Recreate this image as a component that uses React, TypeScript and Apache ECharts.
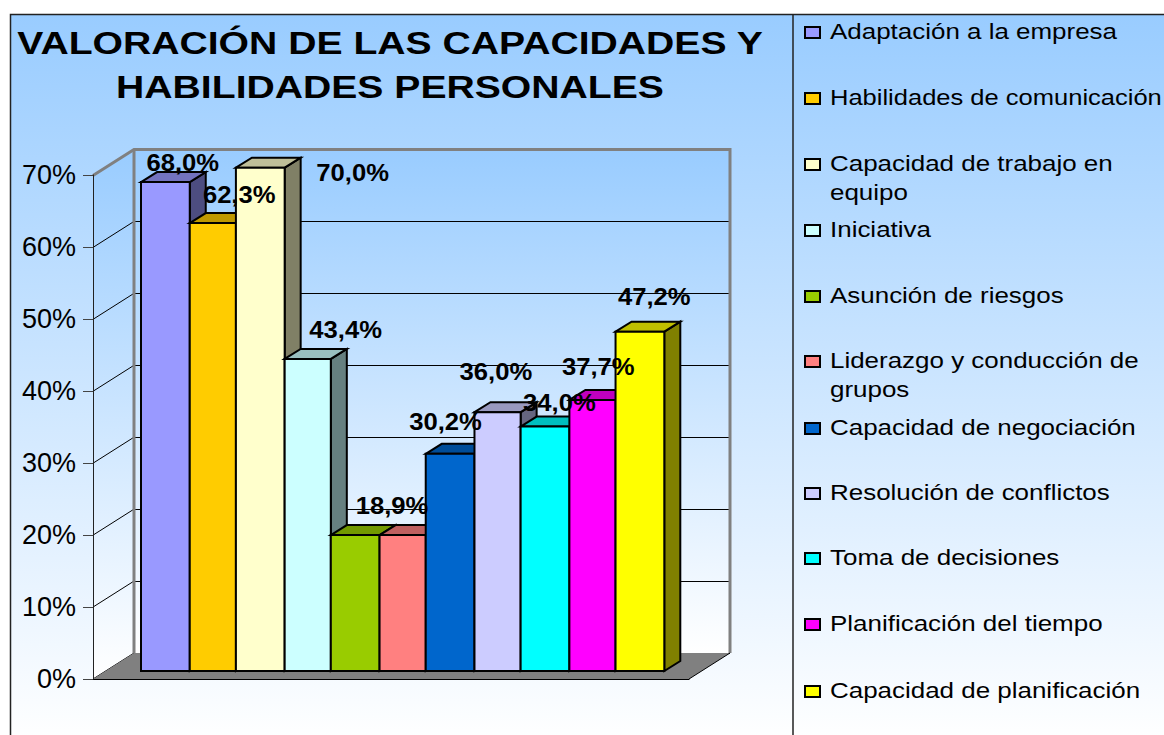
import React, { useEffect, useRef } from "react";
import * as echarts from "echarts";

const titleLines = ["VALORACIÓN DE LAS CAPACIDADES Y", "HABILIDADES PERSONALES"];
const categories = [
  "Adaptación a la empresa",
  "Habilidades de comunicación",
  "Capacidad de trabajo en equipo",
  "Iniciativa",
  "Asunción de riesgos",
  "Liderazgo y conducción de grupos",
  "Capacidad de negociación",
  "Resolución de conflictos",
  "Toma de decisiones",
  "Planificación del tiempo",
  "Capacidad de planificación",
];
const legendLines = [
  ["Adaptación a la empresa"],
  ["Habilidades de comunicación"],
  ["Capacidad de trabajo en", "equipo"],
  ["Iniciativa"],
  ["Asunción de riesgos"],
  ["Liderazgo y conducción de", "grupos"],
  ["Capacidad de negociación"],
  ["Resolución de conflictos"],
  ["Toma de decisiones"],
  ["Planificación del tiempo"],
  ["Capacidad de planificación"],
];
const values = [68.0, 62.3, 70.0, 43.4, 18.9, 18.9, 30.2, 36.0, 34.0, 37.7, 47.2];
const colors = ["#9999FF", "#FFCC00", "#FFFFCC", "#CCFFFF", "#99CC00", "#FF8080", "#0066CC", "#CCCCFF", "#00FFFF", "#FF00FF", "#FFFF00"];
const yTicks = [0, 10, 20, 30, 40, 50, 60, 70];
// Hand-placed data labels in the source, offsets from each bar's top centre. null: hidden by overlap.
const labelOffsets: ([number, number] | null)[] = [
  [18, -19], [27, -28], [93, 5], [38.5, -29], null, [-10, -29.5], [-4, -32], [-1, -40], [15, -23.5], [6.5, -33], [15, -34.6],
];
const legendTextY = [31, 97, 163, 229, 295, 360, 427, 492, 557, 623, 690];

const FONT = '"Liberation Sans", Arial, sans-serif';
const WALL_DX = 41;
const WALL_DY = 26;
const BAR_DX = 16;
const BAR_DY = 10;
const GREY = "#808080";

function shade(hex: string, k: number) {
  const n = parseInt(hex.slice(1), 16);
  const c = [(n >> 16) & 255, (n >> 8) & 255, n & 255].map((v) => Math.round(v * k));
  return `rgb(${c[0]},${c[1]},${c[2]})`;
}
const blueFade = () =>
  new echarts.graphic.LinearGradient(0, 0, 0, 1, [
    { offset: 0, color: "#99CCFF" },
    { offset: 1, color: "#FFFFFF" },
  ]);

function option() {
  const graphic: any[] = [
    { type: "rect", z: -100, shape: { x: 10.5, y: 14.5, width: 1160, height: 730 }, style: { fill: blueFade(), stroke: "#222", lineWidth: 1.5 } },
    { type: "line", z: -100, shape: { x1: 793, y1: 14, x2: 793, y2: 735 }, style: { stroke: "#222", lineWidth: 1.5 } },
  ];
  titleLines.forEach((t, i) => {
    graphic.push({
      type: "text", x: 390, y: 43 + i * 44, scaleX: 1.223,
      style: { text: t, font: `bold 32px ${FONT}`, fill: "#000", align: "center", verticalAlign: "middle" },
    });
  });
  legendLines.forEach((lines, i) => {
    const y = legendTextY[i];
    graphic.push({
      type: "rect", shape: { x: 805, y: y - 4, width: 15, height: 11 },
      style: { fill: colors[i], stroke: "#000", lineWidth: 2 },
    });
    lines.forEach((t, j) => {
      graphic.push({
        type: "text", x: 830, y: y + j * 29, scaleX: t.length > 26 ? 1.16 : 1.18,
        style: { text: t, font: `22px ${FONT}`, fill: "#000", align: "left", verticalAlign: "middle" },
      });
    });
  });

  const wallSeries = {
    type: "custom", xAxisIndex: 1, yAxisIndex: 1, z: -1, silent: true,
    data: [[0]],
    renderItem: (p: any) => {
      const r = p.coordSys;
      const grad = blueFade();
      return {
        type: "group",
        children: [
          { type: "rect", shape: { x: r.x, y: r.y, width: r.width, height: r.height }, style: { fill: grad } },
          {
            type: "polygon",
            shape: { points: [[r.x, r.y], [r.x, r.y + r.height], [r.x - WALL_DX, r.y + r.height + WALL_DY], [r.x - WALL_DX, r.y + WALL_DY]] },
            style: { fill: grad },
          },
        ],
      };
    },
  };
  const diagSeries = {
    type: "custom", xAxisIndex: 1, yAxisIndex: 1, z: 1, silent: true,
    data: yTicks.map((t) => [0, t]),
    renderItem: (_: any, api: any) => {
      const [x, y] = api.coord([0, api.value(1)]);
      return { type: "line", shape: { x1: x, y1: y, x2: x - WALL_DX, y2: y + WALL_DY }, style: { stroke: "#000", lineWidth: 1 } };
    },
  };
  const frameSeries = {
    type: "custom", xAxisIndex: 1, yAxisIndex: 1, z: 1, silent: true,
    data: [[0]],
    renderItem: (p: any) => {
      const r = p.coordSys;
      const b = r.y + r.height;
      return {
        type: "group",
        children: [
          {
            type: "polygon",
            shape: { points: [[r.x, b], [r.x + r.width, b], [r.x + r.width - WALL_DX, b + WALL_DY], [r.x - WALL_DX, b + WALL_DY]] },
            style: { fill: GREY },
          },
          {
            type: "polyline",
            shape: { points: [[r.x - WALL_DX, r.y + WALL_DY], [r.x, r.y], [r.x + r.width, r.y], [r.x + r.width, b]] },
            style: { fill: "none", stroke: GREY, lineWidth: 3 },
          },
          { type: "line", shape: { x1: r.x, y1: r.y, x2: r.x, y2: b }, style: { stroke: GREY, lineWidth: 3 } },
          { type: "line", shape: { x1: r.x + r.width, y1: b, x2: r.x + r.width - WALL_DX, y2: b + WALL_DY }, style: { stroke: "#000", lineWidth: 1 } },
        ],
      };
    },
  };
  const edge = { stroke: "#000", lineWidth: 2, lineJoin: "miter" };
  const barSeries = {
    type: "custom", name: "Valoración", xAxisIndex: 2, yAxisIndex: 2, z: 3, silent: true,
    encode: { x: 0, y: 1 },
    data: values.map((v, i) => [i, v]),
    renderItem: (_: any, api: any) => {
      const i = api.value(0);
      const top = api.coord([i, api.value(1)]);
      const base = api.coord([i, 0]);
      const w = api.size([1, 0])[0];
      // The source rasterised alternate bar edges a little to the right.
      const snap = (k: number) => top[0] - w / 2 + k * w + ((i + k) % 2 ? 1.3 : 0);
      const l = snap(0);
      const r = snap(1);
      const c = colors[i];
      return {
        type: "group",
        children: [
          {
            type: "polygon",
            shape: { points: [[r, top[1]], [r + BAR_DX, top[1] - BAR_DY], [r + BAR_DX, base[1] - BAR_DY], [r, base[1]]] },
            style: { fill: shade(c, 0.5), ...edge },
          },
          {
            type: "polygon",
            shape: { points: [[l, top[1]], [l + BAR_DX, top[1] - BAR_DY], [r + BAR_DX, top[1] - BAR_DY], [r, top[1]]] },
            style: { fill: shade(c, 0.75), ...edge },
          },
          { type: "rect", shape: { x: l, y: top[1], width: r - l, height: base[1] - top[1] }, style: { fill: c, ...edge } },
        ],
      };
    },
  };
  const labelSeries = {
    type: "custom", xAxisIndex: 2, yAxisIndex: 2, z: 5, silent: true,
    data: values.map((v, i) => [i, v]),
    renderItem: (_: any, api: any) => {
      const i = api.value(0);
      const off = labelOffsets[i];
      if (!off) return null;
      const v = api.value(1);
      const [x, y] = api.coord([i, v]);
      return {
        type: "text", x: x + off[0], y: y + off[1], scaleX: 1.114,
        style: {
          text: v.toFixed(1).replace(".", ",") + "%",
          font: `bold 23px ${FONT}`, fill: "#000", align: "center", verticalAlign: "middle",
        },
      };
    },
  };

  const hiddenX = (gridIndex: number) => ({ gridIndex, type: "value", min: 0, max: 1, show: false });
  return {
    animation: false,
    backgroundColor: "#FFFFFF",
    graphic,
    grid: [
      { left: 93, top: 175, width: 596, height: 504 },
      { left: 134, top: 149.5, width: 596, height: 503.5 },
      { left: 141, top: 167.7, width: 522, height: 503.3 },
    ],
    xAxis: [
      { gridIndex: 0, type: "value", min: 0, max: 1, axisLine: { show: true, onZero: false, lineStyle: { color: "#000", width: 1 } }, axisTick: { show: false }, axisLabel: { show: false }, splitLine: { show: false } },
      hiddenX(1),
      { gridIndex: 2, type: "category", data: categories, show: false },
    ],
    yAxis: [
      {
        gridIndex: 0, type: "value", min: 0, max: 70, interval: 10, z: 4,
        axisLine: { show: true, lineStyle: { color: "#222", width: 1 } },
        axisTick: { show: true, length: 10, lineStyle: { color: "#444", width: 1 } },
        axisLabel: { color: "#000", fontFamily: FONT, fontSize: 27, margin: 17, formatter: "{value}%", padding: [0, 0, 6, 0] },
        splitLine: { show: false },
      },
      {
        gridIndex: 1, type: "value", min: 0, max: 70, interval: 10,
        axisLine: { show: false }, axisTick: { show: false }, axisLabel: { show: false },
        splitLine: { show: true, lineStyle: { color: "#000", width: 1 } },
      },
      { gridIndex: 2, type: "value", min: 0, max: 70, show: false },
    ],
    series: [wallSeries, diagSeries, frameSeries, barSeries, labelSeries],
  };
}

export default function App() {
  const ref = useRef<HTMLDivElement>(null);
  useEffect(() => {
    const chart = echarts.init(ref.current!, undefined, { renderer: "svg" });
    chart.setOption(option() as any);
    return () => chart.dispose();
  }, []);
  return <div ref={ref} style={{ position: "fixed", left: 0, top: 0, width: 1164, height: 735 }} />;
}
